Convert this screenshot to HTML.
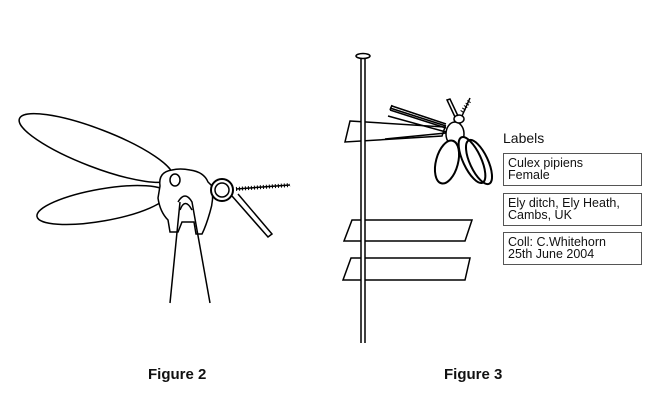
<!DOCTYPE html>
<html><head><style>
body{margin:0;background:#fff;width:648px;height:402px;overflow:hidden;position:relative;font-family:"Liberation Sans",sans-serif;color:#111}
.t{position:absolute;font-size:15px}
.b{position:absolute;border:1.5px solid #555;font-size:12.5px;line-height:12px;padding:3px 4px;box-sizing:border-box;width:139px}
</style></head><body>
<svg width="648" height="402" style="position:absolute;left:0;top:0" fill="none" stroke="#000" stroke-width="1.5">
<!-- Figure 2 -->
<ellipse cx="96" cy="148" rx="82" ry="19" transform="rotate(21 96 148)" fill="#fff"/>
<ellipse cx="102" cy="205" rx="66" ry="16" transform="rotate(-10 102 205)" fill="#fff"/>
<path d="M160 186 Q158 172 172 170 Q180 168 190 170 Q204 172 208 182 L212 186 Q214 200 210 212 Q206 226 202 234 L196 234 L194 222 L182 222 L178 232 L170 232 L168 220 Q160 212 158 198 Z" fill="#fff"/>
<ellipse cx="175" cy="180" rx="5" ry="6" fill="#fff"/>
<circle cx="222" cy="190" r="11" fill="#fff" stroke-width="2"/>
<circle cx="222" cy="190" r="7"/>
<path d="M232 196 L268 237 L272 234 L238 194"/>
<path d="M236 189 L290 185" stroke-dasharray="1 2" stroke-width="4"/>
<path d="M236 189 L290 185"/>
<path d="M178 202 Q185 190 192 202 L210 303 M180 202 L170 303"/>
<path d="M180 210 Q185 197 192 210"/>
<!-- Figure 3 -->
<path d="M350 121 L445 127 L442 136 L345 142 Z" fill="#fff"/>
<path d="M352 220 L472 220 L465 241 L344 241 Z" fill="#fff"/>
<path d="M351 258 L470 258 L465 280 L343 280 Z" fill="#fff"/>
<rect x="361" y="57" width="4" height="286" fill="#fff" stroke="none"/>
<path d="M361 57 V343 M365 57 V343"/>
<ellipse cx="363" cy="56" rx="7" ry="2.5" fill="#fff"/>
<path d="M392 106 L446 124 M390 110 L446 128 M385 139 L446 133 M390 108 L446 126"/>
<path d="M392 105 L390 110 M388 116 L446 132"/>
<ellipse cx="455" cy="134" rx="9" ry="12" fill="#fff"/>
<ellipse cx="459" cy="119" rx="5" ry="4" fill="#fff"/>
<path d="M455 117 L447 100 L450 99 L458 116 M462 116 L470 98"/>
<path d="M462 112 L470 100" stroke-dasharray="1 2" stroke-width="4"/>
<ellipse cx="447" cy="162" rx="11" ry="22" transform="rotate(15 447 162)" fill="#fff" stroke-width="2"/>
<ellipse cx="472" cy="160" rx="9" ry="25" transform="rotate(-25 472 160)" fill="#fff" stroke-width="2"/>
<ellipse cx="479" cy="162" rx="9" ry="24" transform="rotate(-25 479 162)" stroke-width="2"/>
</svg>
<div class="t" style="left:503px;top:130px;font-size:14px">Labels</div>
<div class="b" style="left:503px;top:153px;height:33px">Culex pipiens<br>Female</div>
<div class="b" style="left:503px;top:193px;height:33px">Ely ditch, Ely Heath,<br>Cambs, UK</div>
<div class="b" style="left:503px;top:232px;height:33px">Coll: C.Whitehorn<br>25th June 2004</div>
<div class="t" style="left:148px;top:366px;font-weight:bold">Figure 2</div>
<div class="t" style="left:444px;top:366px;font-weight:bold">Figure 3</div>
</body></html>
